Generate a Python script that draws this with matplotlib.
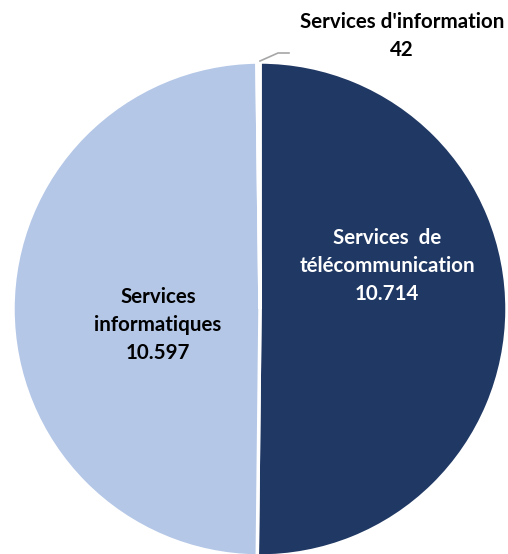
import matplotlib
matplotlib.use("Agg")
import matplotlib.pyplot as plt

# data
labels = ["Services  de\ntélécommunication", "Services\ninformatiques", "Services d'information"]
values = [10714, 10597, 42]
value_text = ["10.714", "10.597", "42"]
colors = ["#203864", "#B4C7E7", "#F2F2F2"]

W, H = 508, 554
fig = plt.figure(figsize=(W / 100, H / 100), dpi=100)
ax = fig.add_axes([0, 0, 1, 1])

cx, cy, r = 260, H - 309, 247
ax.pie(values, colors=colors, startangle=90, counterclock=False,
       center=(cx, cy), radius=r, frame=True,
       wedgeprops=dict(edgecolor="white", linewidth=2.5))
ax.set_xlim(0, W)
ax.set_ylim(0, H)
ax.set_aspect("equal")
ax.axis("off")

font = "Lato"
fs = 14.8
ls = 1.5
ax.text(387, H - 266, labels[0] + "\n" + value_text[0], ha="center", va="center",
        color="white", fontsize=fs, fontweight="bold", family=font, linespacing=ls)
ax.text(158, H - 325, labels[1] + "\n" + value_text[1], ha="center", va="center",
        color="black", fontsize=fs, fontweight="bold", family=font, linespacing=ls)
ax.text(402, H - 36, labels[2] + "\n" + value_text[2], ha="center", va="center",
        color="black", fontsize=fs, fontweight="bold", family=font, linespacing=ls)

# leader line for the small slice
ax.plot([260, 278, 289], [H - 61, H - 53, H - 53], color="#A6A6A6", lw=1.2)

fig.savefig("out.png", dpi=100)
